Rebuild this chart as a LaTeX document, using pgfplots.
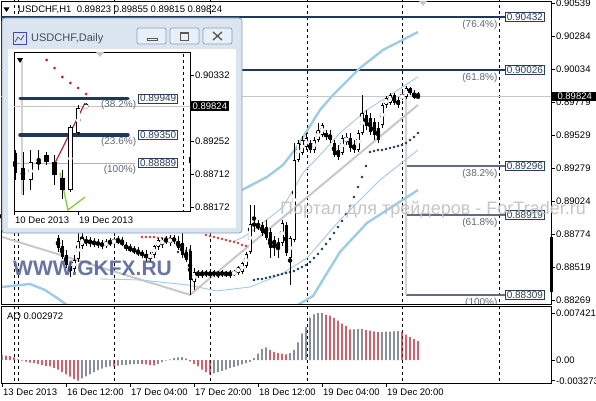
\documentclass[border=0pt]{standalone}
\usepackage{fontspec}
\setmainfont{Liberation Sans}
\usepackage{pgfplots}
\usepackage{pgfplotstable}
\pgfplotsset{compat=1.18}

\definecolor{fibnavy}{RGB}{30,56,90}
\definecolor{fibslate}{RGB}{95,108,130}
\definecolor{boxtext}{RGB}{40,62,92}
\definecolor{pcttext}{RGB}{95,105,120}
\definecolor{lblue}{RGB}{158,204,230}
\definecolor{zzgray}{RGB}{200,200,200}
\definecolor{sarnavy}{RGB}{38,54,82}
\definecolor{sarred}{RGB}{210,60,60}
\definecolor{aored}{RGB}{185,15,30}
\definecolor{aogray}{RGB}{70,84,100}
\definecolor{wmblue}{RGB}{76,94,148}
\definecolor{framebg}{RGB}{218,229,240}
\definecolor{frameedge}{RGB}{138,158,184}
\definecolor{btnbg}{RGB}{233,239,246}
\definecolor{zzred}{RGB}{190,40,50}
\definecolor{zzgreen}{RGB}{130,205,50}

\newcommand\tickfont{\fontsize{9.5}{11}\selectfont}
\newcommand\boxfont{\fontsize{10}{12}\selectfont}

% H1 bars: index, open, high, low, close
\pgfplotstableread{
i o h l c
0 0.88919 0.88958 0.88866 0.88896
1 0.88896 0.88935 0.88843 0.88881
2 0.88881 0.88927 0.88835 0.88912
3 0.88912 0.88958 0.88866 0.88889
4 0.88889 0.88927 0.88820 0.88851
5 0.88851 0.88896 0.88812 0.88866
6 0.88866 0.88904 0.88820 0.88843
7 0.88843 0.88881 0.88805 0.88835
8 0.88835 0.88866 0.88789 0.88858
9 0.88858 0.88896 0.88812 0.88828
10 0.88828 0.88866 0.88789 0.88820
11 0.88820 0.88851 0.88789 0.88835
12 0.88835 0.88866 0.88805 0.88812
13 0.88812 0.88851 0.88789 0.88805
14 0.88744 0.88767 0.88637 0.88667
15 0.88683 0.88728 0.88583 0.88598
16 0.88614 0.88652 0.88514 0.88537
17 0.88530 0.88560 0.88446 0.88499
18 0.88507 0.88614 0.88484 0.88576
19 0.88583 0.88789 0.88560 0.88721
20 0.88683 0.88820 0.88660 0.88744
21 0.88721 0.88759 0.88683 0.88713
22 0.88713 0.88751 0.88675 0.88721
23 0.88713 0.88744 0.88675 0.88698
24 0.88698 0.88736 0.88667 0.88705
25 0.88705 0.88728 0.88660 0.88683
26 0.88683 0.88736 0.88667 0.88713
27 0.88713 0.88744 0.88683 0.88705
28 0.88705 0.88751 0.88690 0.88728
29 0.88728 0.88759 0.88698 0.88713
30 0.88721 0.88751 0.88683 0.88690
31 0.88690 0.88713 0.88644 0.88660
32 0.88667 0.88698 0.88637 0.88652
33 0.88660 0.88683 0.88621 0.88637
34 0.88644 0.88675 0.88606 0.88621
35 0.88629 0.88652 0.88591 0.88614
36 0.88621 0.88652 0.88560 0.88591
37 0.88598 0.88637 0.88560 0.88614
38 0.88614 0.88690 0.88591 0.88683
39 0.88675 0.88744 0.88652 0.88728
40 0.88698 0.88744 0.88667 0.88728
41 0.88728 0.88759 0.88698 0.88721
42 0.88705 0.88767 0.88683 0.88744
43 0.88736 0.88767 0.88698 0.88728
44 0.88721 0.88759 0.88652 0.88667
45 0.88705 0.88782 0.88591 0.88614
46 0.88637 0.88675 0.88560 0.88576
47 0.88644 0.88690 0.88309 0.88423
48 0.88407 0.88514 0.88346 0.88484
49 0.88476 0.88499 0.88438 0.88469
50 0.88469 0.88499 0.88438 0.88476
51 0.88476 0.88499 0.88446 0.88469
52 0.88469 0.88499 0.88438 0.88476
53 0.88476 0.88499 0.88446 0.88469
54 0.88469 0.88491 0.88438 0.88476
55 0.88476 0.88499 0.88446 0.88469
56 0.88469 0.88491 0.88446 0.88476
57 0.88476 0.88499 0.88438 0.88469
58 0.88469 0.88499 0.88453 0.88484
59 0.88476 0.88530 0.88461 0.88522
60 0.88484 0.88560 0.88469 0.88553
61 0.88530 0.88637 0.88514 0.88621
62 0.88637 0.88996 0.88621 0.88851
63 0.88851 0.88996 0.88789 0.88843
64 0.88843 0.88881 0.88805 0.88820
65 0.88843 0.88866 0.88759 0.88782
66 0.88828 0.88881 0.88728 0.88744
67 0.88789 0.88820 0.88591 0.88667
68 0.88728 0.88759 0.88606 0.88690
69 0.88713 0.88744 0.88591 0.88667
70 0.88705 0.88881 0.88683 0.88858
71 0.88843 0.88866 0.88606 0.88629
72 0.88591 0.88759 0.88385 0.88744
73 0.88728 0.89469 0.88713 0.89340
74 0.89340 0.89492 0.89324 0.89469
75 0.89393 0.89523 0.89378 0.89492
76 0.89439 0.89546 0.89416 0.89508
77 0.89469 0.89492 0.89393 0.89416
78 0.89416 0.89515 0.89393 0.89492
79 0.89492 0.89622 0.89477 0.89569
80 0.89531 0.89622 0.89515 0.89607
81 0.89546 0.89569 0.89492 0.89515
82 0.89531 0.89569 0.89469 0.89492
83 0.89469 0.89492 0.89362 0.89378
84 0.89416 0.89454 0.89340 0.89362
85 0.89393 0.89531 0.89378 0.89508
86 0.89477 0.89546 0.89454 0.89515
87 0.89508 0.89546 0.89401 0.89431
88 0.89454 0.89492 0.89393 0.89416
89 0.89416 0.89569 0.89401 0.89546
90 0.89546 0.89836 0.89531 0.89699
91 0.89683 0.89722 0.89569 0.89599
92 0.89660 0.89699 0.89531 0.89553
93 0.89630 0.89660 0.89492 0.89531
94 0.89584 0.89630 0.89469 0.89492
95 0.89607 0.89775 0.89584 0.89760
96 0.89760 0.89828 0.89737 0.89813
97 0.89775 0.89851 0.89760 0.89836
98 0.89836 0.89851 0.89760 0.89775
99 0.89798 0.89821 0.89737 0.89760
100 0.89813 0.89859 0.89798 0.89836
101 0.89821 0.89906 0.89806 0.89890
102 0.89890 0.89897 0.89836 0.89851
103 0.89851 0.89874 0.89806 0.89813
104 0.89823 0.89855 0.89815 0.89824
}\hone

% Awesome Oscillator, split into rising (up) and falling (dn) bars
\pgfplotstableread{
i up dn
0 0.0008 nan
1 nan 0.0007
2 nan 0.0006
3 nan 0.0004
4 nan 0.0001
5 nan -0.0001
6 nan -0.00026
7 nan -0.00041
8 nan -0.0005
9 nan -0.00061
10 nan -0.00076
11 nan -0.00091
12 nan -0.00102
13 nan -0.00126
14 nan -0.00152
15 nan -0.00193
16 nan -0.00228
17 nan -0.00263
18 nan -0.00300
19 nan -0.003273
20 -0.00289 nan
21 -0.00258 nan
22 -0.00228 nan
23 -0.0019 nan
24 -0.0016 nan
25 -0.00137 nan
26 -0.00114 nan
27 -0.00099 nan
28 nan -0.00105
29 -0.0009 nan
30 -0.0008 nan
31 -0.00075 nan
32 -0.0007 nan
33 -0.00065 nan
34 -0.0006 nan
35 nan -0.00065
36 nan -0.0007
37 nan -0.0008
38 nan -0.00085
39 -0.0006 nan
40 -0.00035 nan
41 -0.0001 nan
42 0.0001 nan
43 0.0003 nan
44 0.0004 nan
45 0.00045 nan
46 nan 0.0002
47 nan -0.0002
48 nan -0.0006
49 nan -0.001
50 nan -0.0015
51 nan -0.0019
52 nan -0.0023
53 -0.0021 nan
54 -0.0019 nan
55 -0.0017 nan
56 -0.0015 nan
57 -0.0013 nan
58 -0.0011 nan
59 -0.0009 nan
60 -0.0007 nan
61 -0.0005 nan
62 -0.0003 nan
63 0.0003 nan
64 0.0010 nan
65 0.0017 nan
66 0.0020 nan
67 nan 0.0016
68 nan 0.0013
69 nan 0.0011
70 nan 0.0010
71 nan 0.0009
72 0.0011 nan
73 0.0016 nan
74 0.0028 nan
75 0.0042 nan
76 0.0052 nan
77 0.0067 nan
78 0.0072 nan
79 0.0074 nan
80 0.007421 nan
81 nan 0.00714
82 nan 0.0070
83 nan 0.00664
84 nan 0.00623
85 nan 0.00573
86 nan 0.00537
87 nan 0.00482
88 0.00485 nan
89 0.00488 nan
90 0.0049 nan
91 nan 0.0047
92 nan 0.00462
93 nan 0.00452
94 nan 0.0044
95 0.00445 nan
96 0.00448 nan
97 0.0045 nan
98 0.00452 nan
99 0.00455 nan
100 nan 0.0044
101 nan 0.0040
102 nan 0.0036
103 nan 0.0033
104 nan 0.002972
}\aotab

% Daily bars of the small window
\pgfplotstableread{
i o h l c
0 0.89056 0.89105 0.88614 0.88729
1 0.88811 0.89072 0.88369 0.88614
2 0.88614 0.89105 0.88451 0.88909
3 0.88892 0.89105 0.88778 0.88909
4 0.89023 0.89072 0.88859 0.88909
5 0.88909 0.89023 0.88532 0.88696
6 0.88647 0.88778 0.88309 0.88451
7 0.88451 0.89514 0.88418 0.89481
8 0.89383 0.89841 0.89350 0.89792
9 0.89800 0.89874 0.89780 0.89824
}\daily

% candles: table, wick width, body width, hollow width, min half body, hollow inset
\newcommand\candles[6]{%
  \addplot[black, only marks, mark=none, forget plot,
    error bars/.cd, y dir=both, y explicit, error mark=none,
    error bar style={black, line width=#2}]
    table[x=i, y expr={(\thisrow{h}+\thisrow{l})/2},
      y error expr={(\thisrow{h}-\thisrow{l})/2}] {#1};
  \addplot[black, only marks, mark=none, forget plot,
    error bars/.cd, y dir=both, y explicit, error mark=none,
    error bar style={black, line width=#3}]
    table[x=i, y expr={(\thisrow{o}+\thisrow{c})/2},
      y error expr={max(abs(\thisrow{c}-\thisrow{o})/2,#5)}] {#1};
  \addplot[white, only marks, mark=none, forget plot,
    y filter/.expression={\thisrow{c}-\thisrow{o}>2*#6 ? y : nan},
    error bars/.cd, y dir=both, y explicit, error mark=none,
    error bar style={white, line width=#4}]
    table[x=i, y expr={(\thisrow{o}+\thisrow{c})/2},
      y error expr={max((\thisrow{c}-\thisrow{o})/2-#6,0)}] {#1};
}

\pgfplotsset{
  mt/.style={anchor=south west, scale only axis,
    axis line style={black, line width=0.8pt}, clip mode=individual,
    tick align=outside, major tick length=4pt,
    tick style={black, line width=0.6pt}, scaled ticks=false,
    ytick pos=right, yticklabel pos=right,
    yticklabel style={font=\tickfont, inner xsep=1pt}},
  sep/.style={forget plot, black, line width=0.7pt, dash pattern=on 3pt off 3pt},
}
\tikzset{
  fiblbl/.style={anchor=west, draw=boxtext, line width=0.6pt, fill=white,
    text=boxtext, font=\boxfont, inner xsep=1.5pt, inner ysep=1pt},
  pct/.style={anchor=north east, text=pcttext, font=\boxfont, inner sep=0pt},
}

\begin{document}
\begin{tikzpicture}[x=1pt,y=1pt]
\fill[white] (0pt,0pt) rectangle (596pt,400pt);
\path[use as bounding box] (0pt,0pt) rectangle (596pt,400pt);

% ---------------- main H1 panel ----------------
\begin{axis}[mt, at={(1pt,96pt)}, width=550pt, height=303pt,
  xmin=-0.25, xmax=137.25, ymin=0.88239, ymax=0.90554,
  xtick=\empty,
  ytick={0.90539,0.90284,0.90034,0.89779,0.89529,0.89279,0.89024,0.88774,0.88519,0.88269},
  yticklabels={0.90539,0.90284,0.90034,0.89779,0.89529,0.89279,0.89024,0.88774,0.88519,0.88269}]
\pgfplotsinvokeforeach{3,4,28,52,76.25,100,124.25}{
  \addplot[sep] coordinates {(#1,0.85) (#1,0.95)};}
\addplot[forget plot, gray!45, line width=0.6pt] coordinates {(-1,0.89824) (140,0.89824)};
% fibonacci levels
\addplot[forget plot, fibnavy, line width=2.2pt] coordinates {(-1,0.90432) (125.75,0.90432)};
\addplot[forget plot, fibnavy, line width=2.2pt] coordinates {(-1,0.90026) (125.75,0.90026)};
\addplot[forget plot, fibslate, line width=2pt] coordinates {(101,0.89296) (125.75,0.89296)};
\addplot[forget plot, fibslate, line width=2pt] coordinates {(101,0.88919) (125.75,0.88919)};
\addplot[forget plot, fibslate, line width=2pt] coordinates {(101,0.88309) (125.75,0.88309)};
\addplot[forget plot, gray!35, line width=2pt] coordinates {(101,0.88309) (101,0.89906)};
% trend lines through the swing low
\addplot[forget plot, zzgray, line width=2pt] coordinates {(0,0.88751) (47,0.88309) (104,0.89760)};
% envelopes and bands
\addplot[forget plot, lblue, line width=2.4pt] coordinates {
  (57,0.89080) (60,0.89110) (66.25,0.89210) (70.25,0.89301) (73.75,0.89439) (79.5,0.89722)
  (82.75,0.89836) (89.5,0.90042) (95.25,0.90180) (104,0.90317)};
\addplot[forget plot, lblue, line width=2.4pt] coordinates {
  (0,0.88369) (7,0.88392) (10.75,0.88346) (14.5,0.88270) (16.5,0.88224)};
\addplot[forget plot, lblue, line width=2.4pt] coordinates {
  (73.5,0.88224) (77.75,0.88300) (84.5,0.88637) (91.25,0.88858) (104,0.89110)};
\addplot[forget plot, lblue, line width=0.9pt] coordinates {
  (58,0.88720) (60,0.88744) (62,0.88782) (70.25,0.88980) (75.25,0.89240) (80.25,0.89401)
  (84.5,0.89546) (91.25,0.89722) (104,0.89974)};
\addplot[forget plot, lblue, line width=0.9pt] coordinates {
  (24.5,0.88430) (34.5,0.88423) (46.25,0.88385) (53.75,0.88339) (62,0.88369) (69.5,0.88461)
  (76.25,0.88591) (84.5,0.88881) (94.5,0.89187) (104,0.89416)};
% dotted stop levels
\addplot[forget plot, only marks, mark=*, mark size=1.1pt, sarred] coordinates {
  (35,0.88751) (36,0.88751) (37,0.88751) (38,0.88751) (39,0.88744) (40,0.88744) (41,0.88744)
  (42,0.88744) (43,0.88744)
  (51,0.88767) (52,0.88759) (53,0.88751) (54,0.88744) (55,0.88736) (56,0.88728) (57,0.88721)
  (58,0.88713) (59,0.88705) (60,0.88690) (61,0.88683) (62,0.88667)};
\addplot[forget plot, only marks, mark=*, mark size=1.1pt, sarnavy] coordinates {
  (44,0.88637) (45,0.88644) (46,0.88644) (47,0.88652)
  (63,0.88423) (64,0.88430) (65,0.88430) (66,0.88438) (67,0.88446) (68,0.88453) (69,0.88461)
  (70,0.88469) (71,0.88476) (72,0.88484) (73,0.88491) (74,0.88507) (75,0.88522) (76,0.88537)
  (77,0.88560) (78,0.88591) (79,0.88621) (80,0.88660) (81,0.88698) (82,0.88736) (83,0.88782)
  (84,0.88828) (85,0.88874) (86,0.88927) (87,0.88988) (88,0.89057) (89,0.89133) (90,0.89210)
  (91,0.89294) (92,0.89401) (93,0.89408) (94,0.89416) (95,0.89416) (96,0.89424) (97,0.89431)
  (98,0.89439) (99,0.89447) (100,0.89454) (101,0.89469) (102,0.89492) (103,0.89515) (104,0.89546)};
\candles{\hone}{0.8pt}{3pt}{1.3pt}{0.00003}{0.00006}
% level labels
\node[fiblbl] at (axis cs:125.75,0.90432) {0.90432};
\node[fiblbl] at (axis cs:125.75,0.90026) {0.90026};
\node[fiblbl] at (axis cs:125.75,0.89296) {0.89296};
\node[fiblbl] at (axis cs:125.75,0.88919) {0.88919};
\node[fiblbl] at (axis cs:125.75,0.88309) {0.88309};
\node[pct, yshift=-3pt] at (axis cs:123.9,0.90432) {(76.4\%)};
\node[pct, yshift=-3pt] at (axis cs:123.9,0.90026) {(61.8\%)};
\node[pct, yshift=-3pt] at (axis cs:123.9,0.89296) {(38.2\%)};
\node[pct, yshift=-3pt] at (axis cs:123.9,0.88919) {(61.8\%)};
\begin{scope}
\clip (rel axis cs:0,0) rectangle (rel axis cs:1,1);
\node[pct, yshift=-3pt] at (axis cs:123.9,0.88309) {(100\%)};
\end{scope}
\node[anchor=west, fill=black, text=white, font=\tickfont, minimum width=46pt,
  inner ysep=1.5pt, xshift=0.5pt] at (axis cs:137.25,0.89824) {0.89824};
\end{axis}

% ---------------- AO panel ----------------
\begin{axis}[mt, at={(1pt,17pt)}, width=550pt, height=77pt,
  xmin=-0.25, xmax=137.25, ymin=-0.003632, ymax=0.008527,
  xtick={0,16,32,48,64,80,96}, xtick pos=left,
  xticklabels={13 Dec 2013,16 Dec 12:00,17 Dec 04:00,17 Dec 20:00,18 Dec 12:00,19 Dec 04:00,19 Dec 20:00},
  xticklabel style={anchor=north west, font=\tickfont, inner xsep=1pt, inner ysep=2pt},
  ytick={-0.003273,0,0.007421}, yticklabels={-0.003273,0.00,0.007421}]
\pgfplotsinvokeforeach{3,4,28,52,76.25,100,124.25}{
  \addplot[sep] coordinates {(#1,-0.01) (#1,0.01)};}
\addplot[forget plot, ybar, bar width=1.2pt, bar shift=0pt, fill=aogray, draw=none] table[x=i, y=up] {\aotab};
\addplot[forget plot, ybar, bar width=1.2pt, bar shift=0pt, fill=aored, draw=none] table[x=i, y=dn] {\aotab};
\end{axis}
\node[anchor=west, font=\tickfont, inner sep=0pt] at (7pt,84pt) {AO 0.002972};

% title line and side markers
\fill[black] (3.5pt,392.5pt) -- (9.5pt,392.5pt) -- (6.5pt,388pt) -- cycle;
\node[anchor=base west, font=\tickfont, inner sep=0pt] at (18pt,387pt)
  {USDCHF,H1\ \ 0.89823 0.89855 0.89815 0.89824};
\fill[gray!45] (419pt,399pt) -- (427pt,399pt) -- (423pt,394pt) -- cycle;
\fill[black] (549.5pt,108pt) rectangle (552.5pt,163pt);

% watermarks
\node[anchor=base west, inner sep=0pt, text=wmblue, opacity=0.85,
  font=\fontsize{21}{21}\selectfont\bfseries] at (13pt,125pt) {WWW.GKFX.RU};
\node[anchor=base west, inner sep=0pt, text=gray!50, opacity=0.9,
  font=\fontsize{18}{18}\selectfont] at (280pt,186pt) {Портал для трейдеров - ForTrader.ru};

% ---------------- daily window ----------------
\filldraw[fill=framebg, draw=frameedge, line width=0.8pt, rounded corners=3pt] (2pt,382pt) rectangle (242pt,167pt);
\fill[white] (8pt,351pt) rectangle (236pt,172pt);
\draw[blue!45!gray, line width=0.7pt] (13pt,356pt) rectangle (26pt,368pt);
\draw[blue!45!gray, line width=0.7pt] (15pt,358pt) -- (18pt,363pt) -- (21pt,360pt) -- (24pt,365pt);
\node[anchor=base west, inner sep=0pt, text={rgb,255:red,70;green,80;blue,90},
  font=\fontsize{11}{13}\selectfont] at (31pt,359pt) {USDCHF,Daily};
\foreach \bx in {137,170,203}{
  \filldraw[fill=btnbg, draw=frameedge, line width=0.7pt, rounded corners=2pt] (\bx pt,372pt) rectangle ++(29pt,-16pt);}
\draw[gray!70!black, line width=0.8pt] (147pt,362pt) rectangle (157pt,360pt);
\draw[gray!70!black, line width=0.8pt] (180pt,368pt) rectangle (188pt,360pt);
\draw[gray!70!black, line width=0.8pt] (180pt,367pt) -- (188pt,367pt);
\draw[gray!70!black, line width=1.3pt] (213pt,368pt) -- (222pt,360pt) (213pt,360pt) -- (222pt,368pt);

\begin{axis}[mt, at={(14pt,189pt)}, width=176pt, height=159pt,
  xmin=-0.13, xmax=22.15, ymin=0.88107, ymax=0.90708,
  axis background/.style={fill=white},
  xtick={-0.13,7.97}, xtick pos=left, xticklabels={10 Dec 2013,19 Dec 2013},
  xticklabel style={anchor=north west, font=\tickfont, inner xsep=1pt, inner ysep=2pt},
  ytick={0.90332,0.89252,0.88712,0.88172},
  yticklabels={0.90332,0.89252,0.88712,0.88172}]
\addplot[forget plot, gray!45, line width=0.6pt] coordinates {(-1,0.89824) (23,0.89824)};
\addplot[forget plot, gray!60, line width=0.8pt] coordinates {(-0.13,0.88889) (15.2,0.88889)};
\addplot[forget plot, gray!35, line width=1.2pt] coordinates {(0.89,0.88369) (0.89,0.90577)};
\addplot[sep] coordinates {(21.3,0.87) (21.3,0.91)};
\addplot[forget plot, fibnavy, line width=3.5pt, line cap=round] coordinates {(0.63,0.89949) (14.3,0.89949)};
\addplot[forget plot, fibnavy, line width=3.5pt, line cap=round] coordinates {(0.63,0.89350) (14.3,0.89350)};
\addplot[forget plot, zzred, line width=1.3pt] coordinates {(5.06,0.88892) (8.86,0.89874)};
\addplot[forget plot, zzgreen, line width=1.3pt] coordinates {(5.7,0.88729) (6.7,0.88124) (8.86,0.88336)};
\addplot[forget plot, only marks, mark=*, mark size=1.2pt, zzred] coordinates {
  (4,0.90577) (5,0.90446) (6,0.90299) (7,0.90201) (8,0.90119) (9,0.90021)};
\candles{\daily}{0.8pt}{4.5pt}{2.9pt}{0.00008}{0.0001}
\node[fiblbl] at (axis cs:15.6,0.89949) {0.89949};
\node[fiblbl] at (axis cs:15.6,0.89350) {0.89350};
\node[fiblbl] at (axis cs:15.6,0.88889) {0.88889};
\node[pct, yshift=-2pt] at (axis cs:15.35,0.89949) {(38.2\%)};
\node[pct, yshift=-2pt] at (axis cs:15.35,0.89350) {(23.6\%)};
\node[pct, yshift=-2pt] at (axis cs:15.35,0.88889) {(100\%)};
\node[anchor=west, fill=black, text=white, font=\tickfont, inner xsep=2pt,
  inner ysep=1.5pt, xshift=0.5pt] at (axis cs:22.15,0.89824) {0.89824};
\end{axis}
\fill[black] (17pt,342pt) -- (23pt,342pt) -- (20pt,337pt) -- cycle;
\fill[gray!45] (96pt,348pt) -- (104pt,348pt) -- (100pt,343pt) -- cycle;
\fill[black] (188.8pt,243pt) rectangle (191.2pt,237pt);

\end{tikzpicture}
\end{document}
